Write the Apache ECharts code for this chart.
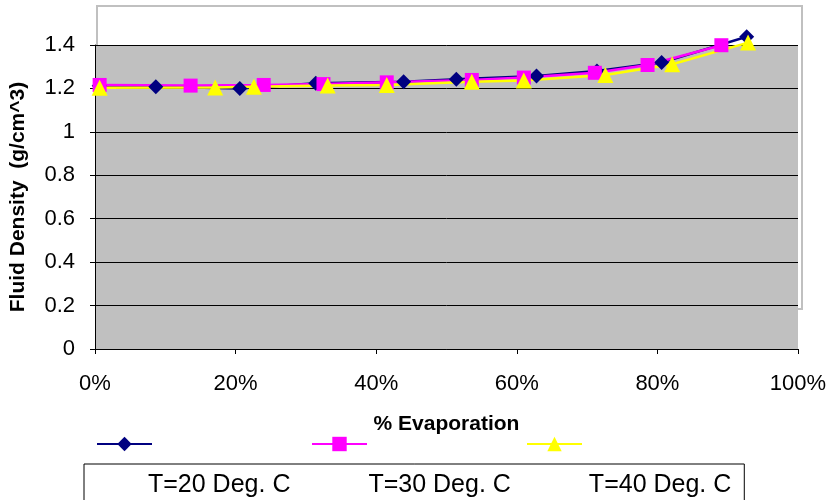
<!DOCTYPE html>
<html>
<head>
<meta charset="utf-8">
<script src="https://cdn.jsdelivr.net/npm/echarts@6/dist/echarts.min.js"></script>
<style>html,body{margin:0;padding:0;background:#fff;}#c{width:833px;height:500px;}</style>
</head>
<body>
<div id="c"></div>
<script>
var seriesNames = ['T=20 Deg. C', 'T=30 Deg. C', 'T=40 Deg. C'];
var t20 = [[0.6,1.212],[8.65,1.208],[20.6,1.200],[31.4,1.224],[43.9,1.231],[51.4,1.242],[62.8,1.257],[71.4,1.280],[80.6,1.319],[92.7,1.438]];
var t30 = [[0.66,1.216],[13.6,1.213],[24.0,1.216],[32.5,1.220],[41.5,1.228],[53.6,1.239],[61.0,1.250],[71.1,1.272],[78.6,1.308],[89.1,1.399]];
var t40 = [[0.66,1.203],[17.1,1.204],[22.6,1.208],[33.1,1.213],[41.5,1.216],[53.6,1.231],[61.0,1.236],[72.6,1.262],[82.1,1.311],[92.9,1.411]];
var xTicks = {min: 0, max: 100, interval: 20};
var yTicks = {min: 0, max: 1.4, interval: 0.2};

var chart = echarts.init(document.getElementById('c'));
var font = 'Liberation Sans, Arial, sans-serif';
function mk(name, data, color, symbol, size) {
  return {
    name: name, type: 'line', data: data, clip: false,
    symbol: symbol, symbolSize: size, showSymbol: true,
    lineStyle: {color: color, width: 2.5},
    itemStyle: {color: color, borderWidth: 0},
    animation: false
  };
}
chart.setOption({
  animation: false,
  graphic: [{
    type: 'rect', z: -10, silent: true,
    shape: {x: 97, y: 6, width: 705, height: 303},
    style: {fill: '#fff', stroke: '#c0c0c0', lineWidth: 2}
  }],
  grid: {left: 93, right: 35, top: 45, bottom: 151, show: true, backgroundColor: '#c0c0c0', borderWidth: 0},
  xAxis: {
    type: 'value', min: xTicks.min, max: xTicks.max, interval: xTicks.interval,
    name: '% Evaporation', nameLocation: 'middle', nameGap: 65,
    nameTextStyle: {fontFamily: font, fontWeight: 'bold', fontSize: 21, color: '#000'},
    axisLine: {show: true, lineStyle: {color: '#000', width: 1}},
    axisTick: {show: true, length: 5, inside: false, lineStyle: {color: '#000'}},
    axisLabel: {formatter: '{value}%', fontFamily: font, fontSize: 22, color: '#000', margin: 24},
    splitLine: {show: false}
  },
  yAxis: {
    type: 'value', min: yTicks.min, max: yTicks.max, interval: yTicks.interval,
    name: 'Fluid Density  (g/cm^3)', nameLocation: 'middle', nameGap: 66,
    nameTextStyle: {fontFamily: font, fontWeight: 'bold', fontSize: 21, color: '#000'},
    axisLine: {show: true, lineStyle: {color: '#000', width: 1}},
    axisTick: {show: true, length: 5, inside: false, lineStyle: {color: '#000'}},
    axisLabel: {fontFamily: font, fontSize: 22, color: '#000', margin: 20},
    splitLine: {show: true, lineStyle: {color: '#000', width: 1}}
  },
  legend: [{
    left: 96, top: 435, padding: 0, itemWidth: 55, itemHeight: 18, itemGap: 158,
    formatter: function () { return ''; },
    data: seriesNames, selectedMode: false
  }, {
    left: 84, top: 464, padding: [9, 13, 30, 59], itemWidth: 0, itemHeight: 0, itemGap: 73,
    icon: 'none', borderColor: '#000', borderWidth: 1,
    textStyle: {fontFamily: font, fontSize: 25, color: '#000'},
    data: seriesNames, selectedMode: false
  }],
  series: [
    mk(seriesNames[0], t20, '#000080', 'diamond', 15),
    mk(seriesNames[1], t30, '#ff00ff', 'rect', 14),
    mk(seriesNames[2], t40, '#ffff00', 'triangle', 16)
  ]
});
</script>
</body>
</html>
